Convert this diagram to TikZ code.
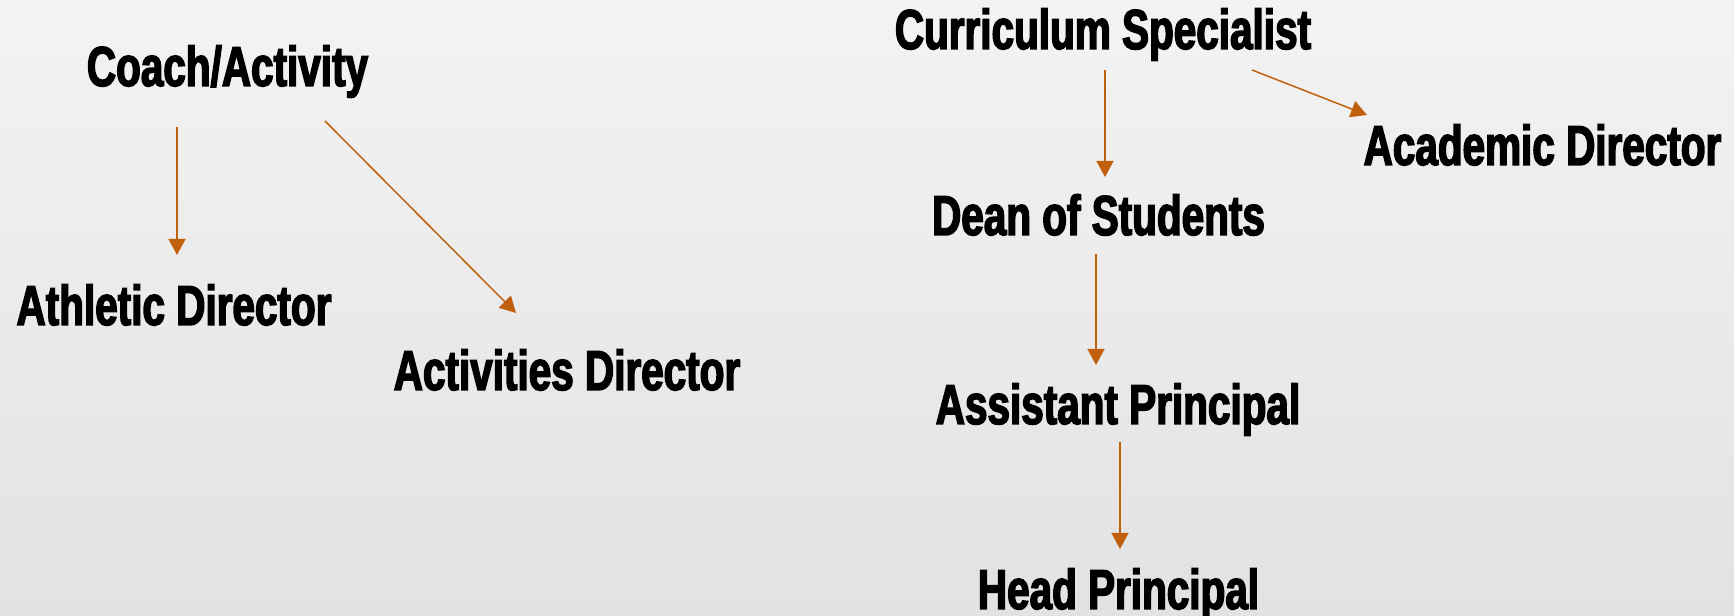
\documentclass[tikz,border=0pt]{standalone}
\usepackage{fontspec}
\newfontfamily\imp{Liberation Sans}[FakeStretch=0.72,FakeBold=2.6]
\usetikzlibrary{arrows.meta}
\definecolor{arrcol}{RGB}{192,96,12}
\definecolor{bgtop}{RGB}{243,243,243}
\definecolor{bgbot}{RGB}{226,226,226}
\tikzset{
  lbl/.style={anchor=base, inner sep=0pt, font=\imp\bfseries\fontsize{16pt}{18pt}\selectfont, text=black},
  arr/.style={draw=arrcol, line width=0.42pt, -{Triangle[length=0.16cm,width=0.17cm]}, arrcol}
}
\begin{document}
\begin{tikzpicture}
\shade[top color=bgtop, bottom color=bgbot] (0,0) rectangle (17.34,-6.16);
\useasboundingbox (0,0) rectangle (17.34,-6.16);
% nodes
\node[lbl] (coach) at (2.275,-0.86) {Coach/Activity};
\node[lbl] (athl) at (1.74,-3.25) {Athletic Director};
\node[lbl] (actd) at (5.67,-3.90) {Activities Director};
\node[lbl] (curr) at (11.03,-0.49) {Curriculum Specialist};
\node[lbl] (acad) at (15.425,-1.65) {Academic Director};
\node[lbl] (dean) at (10.985,-2.35) {Dean of Students};
\node[lbl] (asst) at (11.18,-4.24) {Assistant Principal};
\node[lbl] (head) at (11.185,-6.09) {Head Principal};
% connector end points
\coordinate (a1s) at (1.77,-1.27);  \coordinate (a1e) at (1.77,-2.55);
\coordinate (a2s) at (3.25,-1.21);  \coordinate (a2e) at (5.16,-3.13);
\coordinate (a3s) at (11.05,-0.70); \coordinate (a3e) at (11.05,-1.77);
\coordinate (a4s) at (12.52,-0.70); \coordinate (a4e) at (13.67,-1.15);
\coordinate (a5s) at (10.96,-2.54); \coordinate (a5e) at (10.96,-3.65);
\coordinate (a6s) at (11.20,-4.42); \coordinate (a6e) at (11.20,-5.49);
\draw[arr] (a1s) -- (a1e);
\draw[arr] (a2s) -- (a2e);
\draw[arr] (a3s) -- (a3e);
\draw[arr] (a4s) -- (a4e);
\draw[arr] (a5s) -- (a5e);
\draw[arr] (a6s) -- (a6e);
\end{tikzpicture}
\end{document}
